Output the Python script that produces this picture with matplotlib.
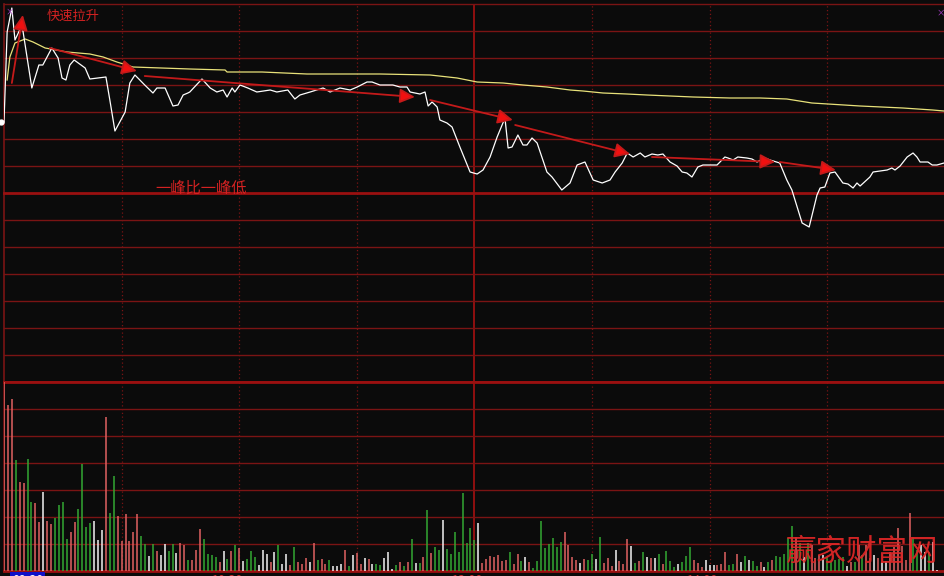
import matplotlib.pyplot as plt
import numpy as np

plt.rcParams['font.family'] = ['Noto Sans CJK SC', 'DejaVu Sans']

# ---- data ----
# price line (minute from 09:30, price)
price_min = [0, 0.8, 2.0, 2.8, 4.6, 7.1, 8.9, 9.9, 12.2, 13.8, 14.8, 15.8, 16.8, 17.9,
             20.7, 21.9, 26.0, 27.0, 28.3, 30.9, 32.1, 33.4, 35.9, 38.0, 39.0, 41.1,
             43.1, 44.4, 45.7, 46.9, 47.4, 50.5, 52.6, 54.3, 55.9, 56.9, 58.2, 58.9,
             60.2, 62.2, 64.5, 67.9, 69.6, 72.4, 73.0, 74.2, 75.5, 78.1, 81.4, 83.2,
             85.7, 88.3, 90.1, 92.6, 93.9, 95.9, 99.2, 101.0, 102.8, 103.6, 106.1,
             107.4, 108.2, 109.2, 110.5, 111.2, 113.0, 114.3, 116.3, 118.9, 120.7,
             122.2, 124.0, 125.8, 127.8, 128.6, 129.6, 131.1, 132.4, 133.4, 134.7,
             136.0, 138.5, 139.8, 142.3, 144.4, 146.2, 148.2, 150.3, 152.6, 154.6,
             155.9, 157.7, 159.0, 160.5, 162.3, 163.5, 165.3, 166.8, 168.1, 169.9,
             171.7, 173.0, 174.2, 175.5, 177.0, 178.3, 181.9, 183.9, 184.7, 186.0,
             187.2, 189.5, 190.8, 192.1, 194.1, 195.4, 197.9, 199.7, 201.0, 203.6,
             205.4, 207.4, 208.2, 209.4, 210.7, 212.0, 214.0, 215.3, 216.6, 217.6,
             218.4, 220.9, 221.7, 225.3, 226.5, 227.3, 228.6, 230.4, 231.9, 232.9,
             233.7, 235.7, 236.8, 238.0, 239.8]
price = [9.764, 9.944, 9.992, 9.928, 9.958, 9.832, 9.878, 9.878, 9.912, 9.892, 9.852,
         9.848, 9.878, 9.888, 9.872, 9.850, 9.854, 9.808, 9.746, 9.784, 9.842, 9.858,
         9.838, 9.822, 9.832, 9.832, 9.796, 9.798, 9.818, 9.822, 9.824, 9.850, 9.832,
         9.824, 9.828, 9.814, 9.832, 9.824, 9.838, 9.832, 9.824, 9.828, 9.824, 9.828,
         9.822, 9.810, 9.818, 9.824, 9.832, 9.824, 9.832, 9.828, 9.834, 9.844, 9.844,
         9.838, 9.838, 9.834, 9.834, 9.824, 9.820, 9.824, 9.796, 9.804, 9.794, 9.768,
         9.762, 9.754, 9.714, 9.664, 9.660, 9.668, 9.694, 9.734, 9.772, 9.712, 9.714,
         9.738, 9.718, 9.718, 9.732, 9.722, 9.664, 9.654, 9.628, 9.642, 9.678, 9.684,
         9.648, 9.642, 9.648, 9.664, 9.682, 9.702, 9.694, 9.702, 9.694, 9.700, 9.698,
         9.700, 9.684, 9.676, 9.664, 9.662, 9.654, 9.674, 9.678, 9.678, 9.694, 9.692,
         9.688, 9.694, 9.692, 9.690, 9.684, 9.692, 9.688, 9.682, 9.648, 9.628, 9.562,
         9.554, 9.618, 9.632, 9.634, 9.662, 9.664, 9.642, 9.640, 9.632, 9.642, 9.636,
         9.654, 9.664, 9.668, 9.672, 9.668, 9.676, 9.694, 9.702, 9.694, 9.684, 9.684,
         9.678, 9.678, 9.682]

# average price line
avg_min = [0.8, 1.5, 2.8, 5.4, 7.4, 10.5, 16.1, 21.9, 25.3, 28.8, 32.9, 47.4, 56.4,
           56.9, 65.8, 77.3, 95.9, 108.7, 115.6, 120.7, 127.3, 132.4, 138.5, 144.4,
           147.7, 152.8, 158.9, 164.0, 169.9, 175.8, 185.2, 192.9, 199.7, 206.1,
           218.4, 229.3, 236.9, 239.8]
avg_price = [9.848, 9.894, 9.922, 9.930, 9.924, 9.912, 9.904, 9.900, 9.894, 9.884,
             9.874, 9.870, 9.868, 9.864, 9.864, 9.860, 9.860, 9.858, 9.852, 9.844,
             9.842, 9.838, 9.834, 9.828, 9.826, 9.822, 9.820, 9.818, 9.816, 9.814,
             9.812, 9.812, 9.810, 9.802, 9.796, 9.792, 9.788, 9.786]

# volume per minute and bar colour (r = up, g = down, w = flat)
volume = [200, 166, 172, 111, 89, 88, 112, 69, 68, 49,
          79, 50, 47, 53, 66, 69, 32, 39, 49, 62,
          107, 44, 48, 50, 31, 41, 154, 58, 95, 55,
          30, 57, 30, 39, 57, 35, 27, 15, 27, 20,
          16, 27, 20, 27, 18, 28, 26, 11, 11, 21,
          42, 32, 17, 16, 14, 9, 20, 12, 20, 26,
          23, 10, 12, 20, 14, 6, 21, 17, 9, 19,
          26, 7, 17, 6, 24, 9, 7, 13, 9, 28,
          11, 12, 7, 11, 5, 5, 7, 21, 5, 16,
          18, 7, 13, 12, 7, 7, 6, 13, 19, 2,
          6, 9, 5, 9, 32, 8, 8, 14, 61, 18,
          24, 21, 51, 22, 17, 39, 19, 78, 28, 43,
          31, 48, 8, 12, 15, 14, 16, 10, 11, 19,
          7, 17, 10, 14, 9, 3, 10, 50, 23, 27,
          33, 24, 29, 39, 26, 14, 11, 8, 12, 11,
          17, 12, 34, 8, 13, 5, 21, 10, 7, 32,
          25, 8, 10, 19, 14, 13, 13, 17, 7, 20,
          10, 4, 7, 9, 15, 24, 11, 8, 4, 11,
          6, 6, 6, 7, 19, 6, 7, 17, 9, 15,
          11, 10, 5, 9, 4, 9, 11, 15, 14, 17,
          33, 45, 34, 28, 14, 28, 26, 13, 16, 16,
          14, 10, 11, 12, 14, 5, 9, 9, 26, 16,
          26, 13, 16, 13, 9, 10, 19, 24, 43, 25,
          11, 58, 34, 21, 26, 19, 19, 29, 1]
vol_dir = ("rrrgrrggrr wrrggggrrg gggwwwrggr rrrrrggwgr wwggwrrgrr "
           "rggggrwgrg rwgggwwwrw gwwrgrrrwr grrgwwwrgw rrwrwggwww "
           "grgrgwgrgr ggwggggggg gwrrrrrrrg rrgwrggggg gggrrrrwrg "
           "gwgrrrwrrr wgrgwrwgrg ggwgggrrrw wwrrrggrwg wggrwgrggg "
           "ggrgwgrrrw gggggwrgrg rrwrwwrrrr rrggwwgww").replace(" ", "")

# red arrows: (start minute, start price, end minute, end price)
rise_arrow = (2.0, 9.842, 4.8, 9.978)
peak_arrows = [(11.7, 9.912, 33.9, 9.866),
               (35.9, 9.856, 104.8, 9.814),
               (108.7, 9.808, 129.8, 9.768),
               (130.4, 9.758, 159.7, 9.700),
               (165.3, 9.694, 196.7, 9.684),
               (197.9, 9.684, 212.2, 9.668)]

time_labels = ["09:30", "10:30", "13:00", "14:00"]

BG = '#0b0b0b'
GRID = '#7a1414'
GRID_BOLD = '#9a1010'
W, H = 944, 576

fig = plt.figure(figsize=(W / 100, H / 100), dpi=100, facecolor=BG)


def px_axes(x0, y0, x1, y1):
    return fig.add_axes([x0 / W, 1 - y1 / H, (x1 - x0) / W, (y1 - y0) / H])


ax = px_axes(4, 4, 944, 382)
axv = px_axes(4, 382, 944, 571)

for a in (ax, axv):
    a.set_facecolor(BG)
    a.set_xlim(0, 239.8)
    a.set_xticks([])
    a.set_yticks([])
    for s in a.spines.values():
        s.set_visible(False)
    for m in (30, 60, 90, 150, 180, 210):
        a.axvline(m, color=GRID, lw=0.9, ls=(0, (1, 2)), zorder=1)
    a.axvline(120, color=GRID_BOLD, lw=1.3, zorder=1)
    a.axvline(0, color=GRID, lw=1.2, zorder=1, clip_on=False)

# price panel
ax.set_ylim(9.244, 10.0)
levels = np.linspace(9.244, 10.0, 15)
for i, lv in enumerate(levels):
    bold = i in (0, 7)
    ax.axhline(lv, color=GRID_BOLD if bold else GRID, lw=2.0 if bold else 1.0,
               zorder=1, clip_on=False)

ax.plot(avg_min, avg_price, color='#e8e27a', lw=0.9, zorder=3)
ax.plot(price_min, price, color='white', lw=0.9, zorder=4)
ax.plot([-0.7], [price[0]], marker='o', ms=3.5, color='white', clip_on=False, zorder=4)


def red_arrow(a, size):
    ax.annotate('', xy=(a[2], a[3]), xytext=(a[0], a[1]),
                arrowprops=dict(arrowstyle='-|>,head_length=0.7,head_width=0.34',
                                color='#c41a1a', fc='#f01010', lw=1.3,
                                shrinkA=0, shrinkB=0, mutation_scale=size),
                zorder=5)


red_arrow(rise_arrow, 13)
for pa in peak_arrows:
    red_arrow(pa, 13)

# volume panel
axv.set_ylim(0, 189)
for i in range(8):
    bold = i in (0, 7)
    axv.axhline(27 * i, color=GRID_BOLD if bold else GRID, lw=2.0 if bold else 1.0,
                zorder=1, clip_on=False)

bar_colors = {'r': '#e06262', 'g': '#33a833', 'w': '#f2f2f2'}
minutes = np.arange(len(volume))
vol = np.array(volume)
dirs = np.array(list(vol_dir))
for key, col in bar_colors.items():
    sel = dirs == key
    axv.vlines(minutes[sel], 0, vol[sel], color=col, lw=1.1, zorder=2)

# texts
fig.text(47 / W, 1 - 16 / H, "快速拉升", color='#d42222', fontsize=9.5,
         ha='left', va='center')
fig.text(155 / W, 1 - 188 / H, "一峰比一峰低", color='#d42222', fontsize=11,
         ha='left', va='center')
fig.text(786 / W, 1 - 552 / H, "赢家财富网", color='#dc2626', fontsize=22,
         ha='left', va='center', fontweight='light', alpha=0.95)

fig.text(10 / W, 1 - 12 / H, "×", color='#b040d0', fontsize=6, ha='center', va='center')
fig.text(941 / W, 1 - 13 / H, "×", color='#b040d0', fontsize=6, ha='center', va='center')

# time axis labels: only their tops show at the bottom edge, as in the source
label_x = [12, 212, 452, 687]
for lx, lab in zip(label_x, time_labels):
    if lab == "09:30":
        fig.text(lx / W, 1 - 574 / H, lab, color='white', fontsize=9, ha='left', va='top',
                 bbox=dict(boxstyle='square,pad=0.15', fc='#1010c8', ec='none'))
    else:
        fig.text(lx / W, 1 - 574 / H, lab, color='#c83232', fontsize=9, ha='left', va='top')

fig.savefig('out.png', dpi=100, facecolor=BG)
